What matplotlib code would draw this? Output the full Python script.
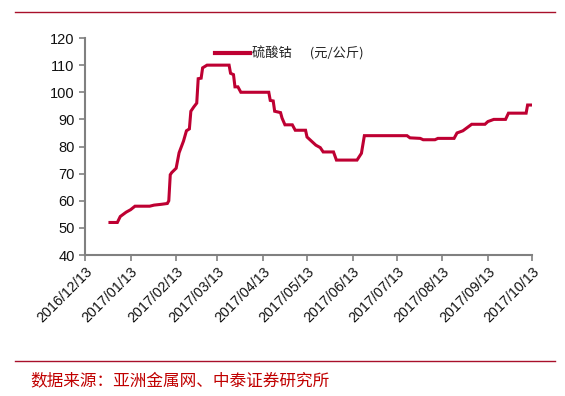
import matplotlib
matplotlib.use("Agg")
import matplotlib.pyplot as plt
import matplotlib.dates as mdates
import pandas as pd
from matplotlib.lines import Line2D

plt.rcParams['font.family'] = ['Liberation Sans', 'Noto Sans CJK SC', 'DejaVu Sans']

dates = ["2016-12-30", "2017-01-04", "2017-01-06", "2017-01-10", "2017-01-13", "2017-01-16",
         "2017-01-26", "2017-01-29", "2017-02-03", "2017-02-07", "2017-02-08", "2017-02-09",
         "2017-02-10", "2017-02-13", "2017-02-15", "2017-02-18", "2017-02-20", "2017-02-22",
         "2017-02-23", "2017-02-25", "2017-02-27", "2017-02-28", "2017-03-02", "2017-03-03",
         "2017-03-06", "2017-03-21", "2017-03-22", "2017-03-24", "2017-03-25", "2017-03-27",
         "2017-03-29", "2017-04-17", "2017-04-18", "2017-04-20", "2017-04-21", "2017-04-25",
         "2017-04-26", "2017-04-28", "2017-05-03", "2017-05-05", "2017-05-12", "2017-05-13",
         "2017-05-16", "2017-05-19", "2017-05-22", "2017-05-24", "2017-05-31", "2017-06-02",
         "2017-06-16", "2017-06-19", "2017-06-21", "2017-07-20", "2017-07-22", "2017-07-29",
         "2017-07-31", "2017-08-08", "2017-08-10", "2017-08-21", "2017-08-23", "2017-08-27",
         "2017-08-30", "2017-09-02", "2017-09-11", "2017-09-13", "2017-09-17", "2017-09-25",
         "2017-09-27", "2017-10-09", "2017-10-10", "2017-10-13"]
values = [52, 52, 54.2, 55.8, 56.7, 58,
          58, 58.4, 58.7, 59, 60, 69.6,
          70.4, 72, 77.7, 82, 85.8, 86.5,
          93, 94.6, 96, 105, 105.2, 109,
          110, 110, 107, 106.5, 102, 102,
          100, 100, 97, 96.8, 93, 92.5,
          90.5, 88, 88, 86, 86, 83.5,
          82, 80.5, 79.6, 78, 78, 75,
          75, 77.5, 84, 84, 83.2, 83,
          82.5, 82.5, 83, 83, 85, 85.8,
          87, 88.2, 88.2, 89.2, 90, 90,
          92.3, 92.3, 95.3, 95.3]

tick_dates = ["2016-12-13", "2017-01-13", "2017-02-13", "2017-03-13", "2017-04-13", "2017-05-13",
              "2017-06-13", "2017-07-13", "2017-08-13", "2017-09-13", "2017-10-13"]
tick_labels = ["2016/12/13", "2017/01/13", "2017/02/13", "2017/03/13", "2017/04/13", "2017/05/13",
               "2017/06/13", "2017/07/13", "2017/08/13", "2017/09/13", "2017/10/13"]
y_ticks = [40, 50, 60, 70, 80, 90, 100, 110, 120]

series_name = "硫酸钴"
unit_label = "(元/公斤)"
source_text = "数据来源：亚洲金属网、中泰证券研究所"

line_color = "#BE0032"
axis_color = "#808080"
rule_color = "#A8102A"

fig = plt.figure(figsize=(5.65, 3.96), dpi=100)
ax = fig.add_axes([0.1504, 0.356, 0.7912, 0.548])

x = pd.to_datetime(dates)
ax.plot(x, values, color=line_color, lw=2.2, solid_joinstyle='miter')

xt = pd.to_datetime(tick_dates)
ax.set_xlim(xt[0], xt[-1])
ax.set_xticks(xt)
ax.set_xticklabels(tick_labels, rotation=45, ha='right', rotation_mode='anchor',
                   fontsize=10.3, color='#111111')
ax.set_ylim(40, 120)
ax.set_yticks(y_ticks)
ax.set_yticklabels([str(v) for v in y_ticks], fontsize=10.5, color='#111111')

for s in ['top', 'right']:
    ax.spines[s].set_visible(False)
for s in ['left', 'bottom']:
    ax.spines[s].set_color(axis_color)
    ax.spines[s].set_linewidth(1.5)
ax.tick_params(axis='both', direction='out', color=axis_color, width=1.2, length=4)
ax.tick_params(axis='x', pad=3)

# legend
handle = Line2D([0], [0], color=line_color, lw=3)
leg = ax.legend([handle], [series_name + "      " + unit_label], loc='upper left',
                bbox_to_anchor=(0.265, 1.015), frameon=False, handlelength=2.6,
                handletextpad=0.15, prop={'family': ['Noto Sans CJK SC'], 'size': 9.5})
for t in leg.get_texts():
    t.set_color('#222222')

# decorative rules and source
fig.add_artist(Line2D([15/565, 555/565], [1 - 12/396, 1 - 12/396], color=rule_color, lw=1.0))
fig.add_artist(Line2D([15/565, 555/565], [1 - 361/396, 1 - 361/396], color=rule_color, lw=1.0))
fig.text(30/565, 1 - 381/396, source_text, fontsize=12, color='#C00000',
         va='center', ha='left', family=['Noto Sans CJK SC'])

fig.savefig("out.png", dpi=100)
